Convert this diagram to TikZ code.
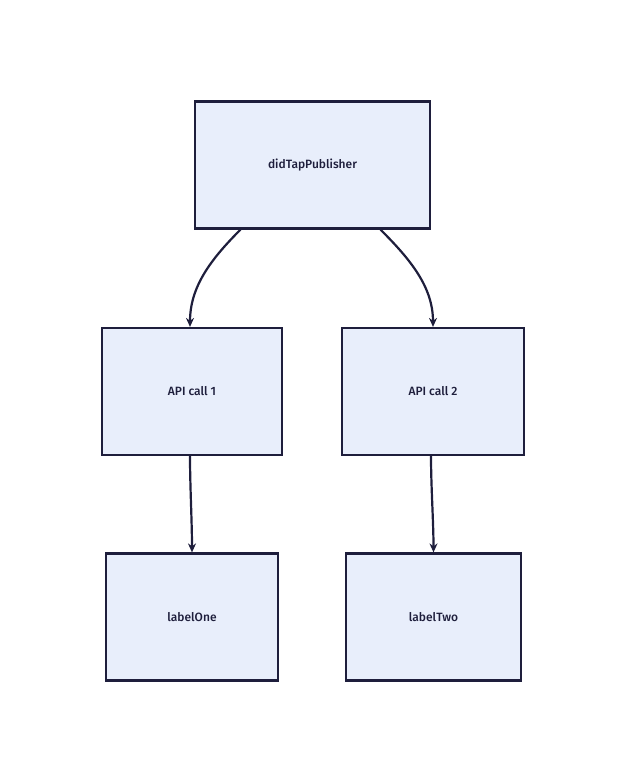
\documentclass[tikz,border=0pt]{standalone}
\usepackage{fontspec}
\setmainfont{Fira Sans}[UprightFont=* Medium]
\usetikzlibrary{arrows.meta,calc}
\definecolor{bfill}{HTML}{E8EEFB}
\definecolor{ink}{HTML}{1E1E3C}
\begin{document}
\begin{tikzpicture}[x=1pt,y=-1pt,
  box/.style={draw=ink,fill=bfill,line width=2.2pt,minimum width=#1,minimum height=127pt,inner sep=0pt,font=\fontsize{12}{14}\selectfont,text=ink},
  conn/.style={draw=ink,line width=2.2pt,-{Stealth[length=9pt,width=8pt]}}]
\useasboundingbox (0,0) rectangle (626,782);
\node[box=235pt] (top) at (312.5,165) {didTapPublisher};
\node[box=180pt] (a1) at (192,391.5) {API call 1};
\node[box=182pt] (a2) at (433,391.5) {API call 2};
\node[box=172pt] (l1) at (192,617) {labelOne};
\node[box=175pt] (l2) at (433.5,617) {labelTwo};
\draw[conn] ($(top.south)+(-72,0)$) .. controls +(-30,30) and +(0,-40) .. ($(a1.north)+(-2,0)$);
\draw[conn] ($(top.south)+(68,0)$) .. controls +(30,30) and +(0,-40) .. (a2.north);
\draw[conn] ($(a1.south)+(-2,0)$) .. controls +(0,30) and +(0,-30) .. (l1.north);
\draw[conn] ($(a2.south)+(-2,0)$) .. controls +(0,30) and +(0,-30) .. (l2.north);
\end{tikzpicture}
\end{document}
